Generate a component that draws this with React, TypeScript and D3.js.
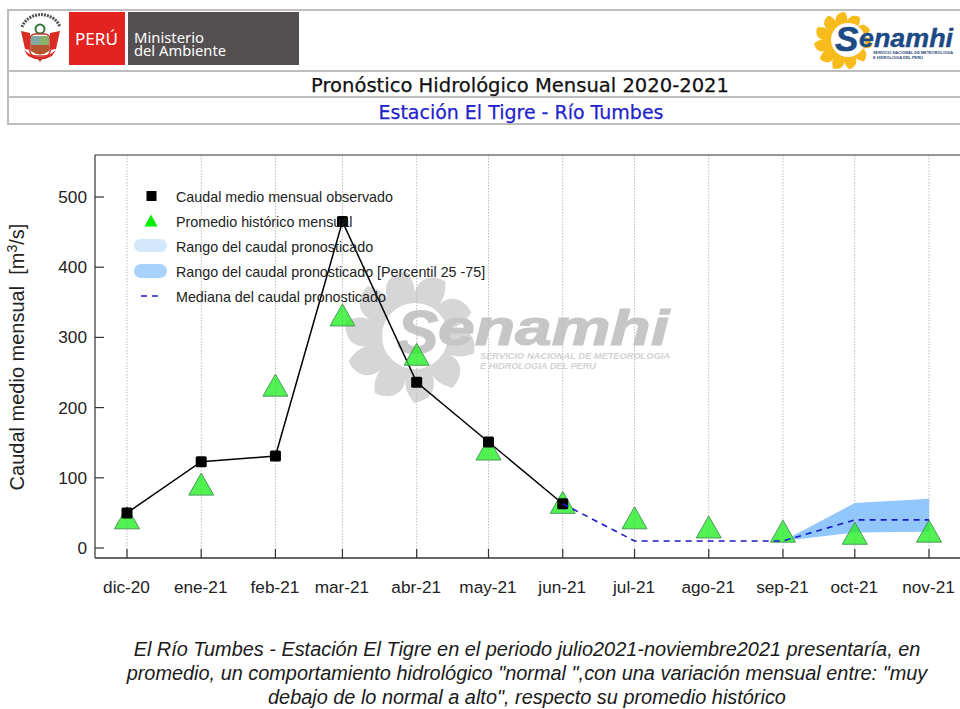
import React from "react";
import * as d3 from "d3";

const monthDates = ["2020-12-01","2021-01-01","2021-02-01","2021-03-01","2021-04-01","2021-05-01","2021-06-01","2021-07-01","2021-08-01","2021-09-01","2021-10-01","2021-11-01"];
const monthLabels = ["dic-20","ene-21","feb-21","mar-21","abr-21","may-21","jun-21","jul-21","ago-21","sep-21","oct-21","nov-21"];
const observed = [50,123,131,465,236,151,63];
const historical = [43,91,232,332,276,141,65,43,30,24,21,24];
const medianIdx = [6,7,8,9,10,11];
const median = [63,10,10,10,40,40];
const bandIdx = [9,10,11];
const bandLow = [10,22,23];
const bandHigh = [10,64,70];
const yTicks = [0,100,200,300,400,500];
const footer = [
  "El Río Tumbes - Estación El Tigre en el periodo julio2021-noviembre2021 presentaría, en",
  "promedio, un comportamiento hidrológico \"normal \",con una variación mensual entre: \"muy",
  "debajo de lo normal a alto\", respecto su promedio histórico",
];
const legendItems = [
  "Caudal medio mensual observado",
  "Promedio histórico mensual",
  "Rango del caudal pronosticado",
  "Rango del caudal pronosticado [Percentil 25 -75]",
  "Mediana del caudal pronosticado",
];

const SANS = "'Liberation Sans', Arial, sans-serif";
const HEAD = "'DejaVu Sans', Verdana, sans-serif";

const dates = monthDates.map((d) => new Date(d + "T00:00:00Z"));
const x = d3.scaleUtc().domain([dates[0], dates[11]]).range([127, 929]);
const y = d3.scaleLinear().domain([0, 500]).range([548, 197]);
const PLOT = { left: 95, top: 155, bottom: 558 };

const lineGen = d3.line<[number, number]>().x((d) => x(dates[d[0]])).y((d) => y(d[1]));
const bandGen = d3.area<number>()
  .x((_, i) => x(dates[bandIdx[i]]))
  .y0((_, i) => y(bandLow[i]))
  .y1((_, i) => y(bandHigh[i]));

function sunPath(cx: number, cy: number, rIn: number, rOut: number, n: number) {
  const s: string[] = [];
  const p = (r: number, a: number) => `${(cx + r * Math.cos(a)).toFixed(1)} ${(cy + r * Math.sin(a)).toFixed(1)}`;
  for (let i = 0; i < n; i++) {
    const a0 = (i / n) * Math.PI * 2 - 0.2;
    const da = (Math.PI * 2) / n;
    s.push(i === 0 ? `M${p(rIn, a0)}` : `L${p(rIn, a0)}`);
    s.push(`C${p(rOut * 0.9, a0 - da * 0.12)} ${p(rOut * 1.02, a0 + da * 0.35)} ${p(rOut, a0 + da * 0.72)}`);
    s.push(`C${p(rOut * 0.85, a0 + da * 0.9)} ${p(rOut * 0.8, a0 + da * 1.0)} ${p(rIn, a0 + da)}`);
  }
  return s.join(" ") + "Z";
}

const tri = (cx: number, cy: number, w = 25, h = 22) =>
  `M${cx} ${cy - h / 2}L${cx + w / 2} ${cy + h / 2}L${cx - w / 2} ${cy + h / 2}Z`;

function Coat() {
  return (
    <g>
      <path d="M22 27 A20 18 0 0 1 60 27" fill="none" stroke="#555" strokeWidth={3} strokeDasharray="2 1" />
      <circle cx={40} cy={29} r={4.5} fill="none" stroke="#2c7a3a" strokeWidth={2} />
      <path d="M21 31L30 33L30 50L25 49Z M60 31L50 33L50 50L56 49Z" fill="#d92a24" />
      <rect x={30} y={34} width={20} height={22} rx={5} fill="#fff" stroke="#c9352b" strokeWidth={1.5} />
      <rect x={31} y={36} width={9} height={9} fill="#7fa8a0" />
      <rect x={40} y={36} width={9} height={9} fill="#8db16a" />
      <path d="M31 45H49V51Q40 58 31 51Z" fill="#b5562e" />
      <path d="M24 50Q40 64 56 50L52 56Q40 63 28 56Z" fill="#d92a24" />
      <path d="M37 58L40 62L43 58Z" fill="#c9352b" />
    </g>
  );
}

export default function App() {
  const gray = "#bdbdbd";
  return (
    <svg width={960} height={709} viewBox="0 0 960 709" style={{ position: "absolute", left: 0, top: 0, background: "#fff" }}>
      {/* Header */}
      <g stroke={gray} strokeWidth={2}>
        <line x1={8} x2={960} y1={10} y2={10} />
        <line x1={8} x2={960} y1={71} y2={71} />
        <line x1={8} x2={960} y1={97} y2={97} />
        <line x1={8} x2={960} y1={124} y2={124} />
        <line x1={8} x2={8} y1={9} y2={125} />
      </g>
      <Coat />
      <rect x={69} y={12} width={56} height={53} fill="#e3231f" />
      <text x={75} y={45} fontFamily="'Noto Sans', sans-serif" fontSize={16} textLength={43} lengthAdjust="spacingAndGlyphs" fill="#fff">PERÚ</text>
      <rect x={128} y={12} width={171} height={53} fill="#545051" />
      <text x={134} y={43} fontFamily="'Noto Sans', sans-serif" fontSize={14.5} textLength={70} lengthAdjust="spacingAndGlyphs" fill="#fff">Ministerio</text>
      <text x={134} y={56} fontFamily="'Noto Sans', sans-serif" fontSize={14.5} textLength={92} lengthAdjust="spacingAndGlyphs" fill="#fff">del Ambiente</text>

      <path d={sunPath(843, 41, 17, 29, 11)} fill="#f8bb1c" />
      <circle cx={848} cy={40} r={17} fill="#fff" />
      <text x={835} y={51} fontFamily={SANS} fontWeight={700} fontStyle="italic" fontSize={35} fill="#1d4a85" stroke="#1d4a85" strokeWidth={0.6}>S</text>
      <text x={859} y={47} fontFamily={SANS} fontWeight={700} fontStyle="italic" fontSize={26} textLength={94} lengthAdjust="spacingAndGlyphs" fill="#1d4a85" stroke="#1d4a85" strokeWidth={0.4}>enamhi</text>
      <text x={873} y={53.5} fontFamily={SANS} fontWeight={700} fontSize={4.4} textLength={80} lengthAdjust="spacingAndGlyphs" fill="#2a4a7a">SERVICIO NACIONAL DE METEOROLOGIA</text>
      <text x={873} y={58.5} fontFamily={SANS} fontWeight={700} fontSize={4.4} textLength={50} lengthAdjust="spacingAndGlyphs" fill="#2a4a7a">E HIDROLOGIA DEL PERU</text>

      <text x={520} y={92} textAnchor="middle" fontFamily={HEAD} fontSize={20} textLength={418} lengthAdjust="spacingAndGlyphs" fill="#111" stroke="#111" strokeWidth={0.25}>Pronóstico Hidrológico Mensual 2020-2021</text>
      <text x={521} y={119} textAnchor="middle" fontFamily={HEAD} fontSize={20} textLength={285} lengthAdjust="spacingAndGlyphs" fill="#2222cc" stroke="#2222cc" strokeWidth={0.25}>Estación El Tigre - Río Tumbes</text>

      {/* Watermark */}
      <g>
        <path d={sunPath(410, 337, 34, 66, 10)} fill="#d6d6d6" />
        <circle cx={415} cy={336} r={33} fill="#fff" />
        <text x={397} y={353} fontFamily={SANS} fontWeight={700} fontStyle="italic" fontSize={62} fill="#c6c6c6" stroke="#c6c6c6" strokeWidth={1.2}>S</text>
        <text x={438} y={345} fontFamily={SANS} fontWeight={700} fontStyle="italic" fontSize={50} textLength={231} lengthAdjust="spacingAndGlyphs" fill="#c6c6c6" stroke="#c6c6c6" strokeWidth={1.2}>enamhi</text>
        <text x={480} y={359} fontFamily={SANS} fontWeight={700} fontStyle="italic" fontSize={8.2} textLength={190} lengthAdjust="spacingAndGlyphs" fill="#d2d2d2">SERVICIO NACIONAL DE METEOROLOGIA</text>
        <text x={480} y={369} fontFamily={SANS} fontWeight={700} fontStyle="italic" fontSize={8.2} textLength={116} lengthAdjust="spacingAndGlyphs" fill="#d2d2d2">E HIDROLOGIA DEL PERU</text>
      </g>

      {/* Grid */}
      {dates.map((d, i) => (
        <line key={i} x1={x(d)} x2={x(d)} y1={PLOT.top} y2={PLOT.bottom} stroke="#bdbdbd" strokeWidth={1} strokeDasharray="1.5 1.5" />
      ))}

      {/* Band and lines */}
      <path d={bandGen(bandLow) ?? ""} fill="#92c7fb" />
      <path d={lineGen(observed.map((v, i) => [i, v] as [number, number])) ?? ""} fill="none" stroke="#000" strokeWidth={1.5} />

      {/* Historical triangles */}
      {historical.map((v, i) => (
        <path key={i} d={tri(x(dates[i]), y(v))} fill="#22ee22" fillOpacity={0.78} stroke="#4a9a5a" strokeWidth={1} />
      ))}

      {/* Observed */}
      {observed.map((v, i) => (
        <rect key={i} x={x(dates[i]) - 5.5} y={y(v) - 5.5} width={11} height={11} rx={1.5} fill="#000" />
      ))}
      <path d={lineGen(median.map((v, i) => [medianIdx[i], v] as [number, number])) ?? ""} fill="none" stroke="#1a1acb" strokeWidth={1.6} strokeDasharray="6 5" />

      {/* Frame */}
      <g stroke="#333" fill="none">
        <line x1={PLOT.left} x2={960} y1={PLOT.top} y2={PLOT.top} strokeWidth={1.2} />
        <line x1={PLOT.left} x2={960} y1={PLOT.bottom} y2={PLOT.bottom} strokeWidth={1.5} />
        <line x1={PLOT.left} x2={PLOT.left} y1={PLOT.top} y2={PLOT.bottom} strokeWidth={1.2} />
        {yTicks.map((t) => <line key={t} x1={PLOT.left} x2={PLOT.left + 9} y1={y(t)} y2={y(t)} strokeWidth={1.2} />)}
        {dates.map((d, i) => <line key={i} x1={x(d)} x2={x(d)} y1={PLOT.bottom - 9} y2={PLOT.bottom} strokeWidth={1.2} />)}
      </g>
      <g fontFamily={SANS} fontSize={17.2} fill="#222">
        {yTicks.map((t) => <text key={t} x={87} y={y(t) + 6} textAnchor="end">{t}</text>)}
        {monthLabels.map((m, i) => <text key={m} x={x(dates[i]) - 0.5} y={593} textAnchor="middle">{m}</text>)}
      </g>
      <text transform="translate(24,357) rotate(-90)" textAnchor="middle" fontFamily={SANS} fontSize={20} fill="#222" xmlSpace="preserve">
        {"Caudal medio mensual  [m"}<tspan dy={-7} fontSize={14}>3</tspan><tspan dy={7}>/s]</tspan>
      </text>

      {/* Legend */}
      <g>
        <rect x={146.5} y={191} width={10} height={10} fill="#000" />
        <path d={tri(151, 220.5, 13, 12)} fill="#00f000" />
        <rect x={134} y={239} width={33} height={13} rx={6.5} fill="#d3e8fc" />
        <rect x={134} y={264} width={33} height={14} rx={7} fill="#a8d2fb" />
        <line x1={141} x2={160} y1={296} y2={296} stroke="#1a1acb" strokeWidth={1.3} strokeDasharray="6 5" />
        <g fontFamily={SANS} fontSize={14.3} fill="#222">
          {legendItems.map((t, i) => <text key={t} x={176} y={202 + i * 25}>{t}</text>)}
        </g>
      </g>

      {/* Footer */}
      <g fontFamily={SANS} fontSize={19.9} fontStyle="italic" fill="#1a1a1a" textAnchor="middle">
        {footer.map((t, i) => <text key={i} x={527} y={656 + i * 24}>{t}</text>)}
      </g>
    </svg>
  );
}
